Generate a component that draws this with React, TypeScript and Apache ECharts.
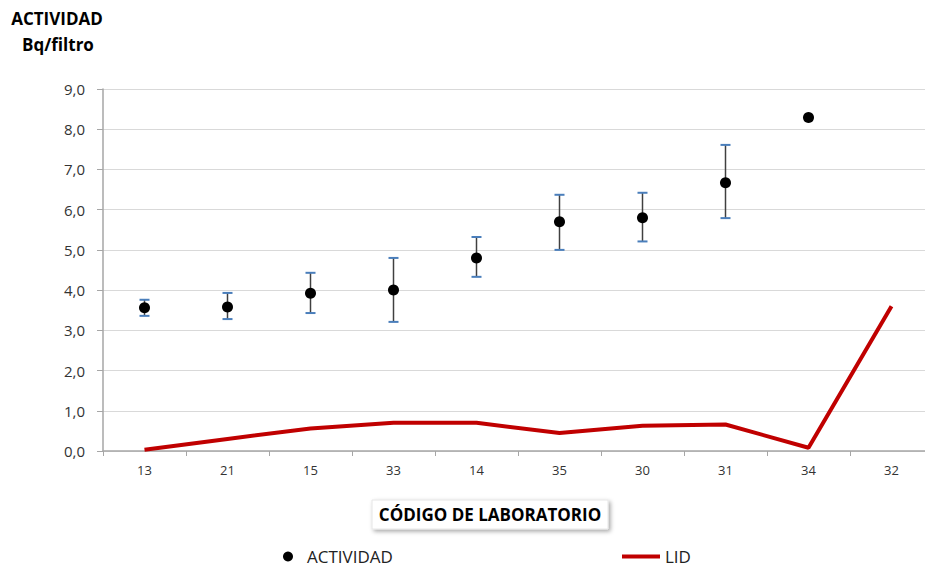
import React, { useEffect, useRef } from "react";
import * as echarts from "echarts";

const categories = ["13", "21", "15", "33", "14", "35", "30", "31", "34", "32"];
const actividad = [3.56, 3.58, 3.92, 4.0, 4.8, 5.7, 5.8, 6.67, 8.29, null];
const errLow = [3.36, 3.28, 3.43, 3.21, 4.33, 5.0, 5.21, 5.79, null, null];
const errHigh = [3.76, 3.93, 4.43, 4.8, 5.32, 6.37, 6.42, 7.61, null, null];
const lid = [0.03, 0.3, 0.56, 0.7, 0.7, 0.45, 0.63, 0.66, 0.08, 3.6];

const FONT = "'Open Sans', sans-serif";

export default function App() {
  const ref = useRef<HTMLDivElement>(null);
  useEffect(() => {
    const chart = echarts.init(ref.current!, null, { renderer: "svg" });
    const errData = categories
      .map((c, i) => (errLow[i] != null ? [i, errLow[i], errHigh[i]] : null))
      .filter((d) => d !== null);
    chart.setOption({
      animation: false,
      backgroundColor: "#ffffff",
      grid: { left: 103, top: 89, width: 830, height: 362, containLabel: false },
      graphic: [
        {
          type: "text",
          x: 57,
          y: 18,
          style: {
            text: "ACTIVIDAD",
            font: `bold 17px ${FONT}`,
            fill: "#000",
            textAlign: "center",
            textVerticalAlign: "middle",
          },
        },
        {
          type: "text",
          x: 58,
          y: 44,
          style: {
            text: "Bq/filtro",
            font: `bold 17px ${FONT}`,
            fill: "#000",
            textAlign: "center",
            textVerticalAlign: "middle",
          },
        },
        {
          type: "rect",
          shape: { x: 372, y: 500, width: 236, height: 29 },
          style: {
            fill: "#fff",
            stroke: "#e6e6e6",
            lineWidth: 1,
            shadowBlur: 4,
            shadowOffsetX: 2,
            shadowOffsetY: 2,
            shadowColor: "rgba(0,0,0,0.35)",
          },
        },
        {
          type: "text",
          x: 490,
          y: 514.5,
          style: {
            text: "CÓDIGO DE LABORATORIO",
            font: `bold 17px ${FONT}`,
            fill: "#000",
            textAlign: "center",
            textVerticalAlign: "middle",
          },
        },
      ],
      legend: [
        {
          data: [{ name: "ACTIVIDAD", icon: "circle" }],
          left: 278,
          top: 543,
          itemWidth: 28,
          itemHeight: 10,
          symbolKeepAspect: true,
          itemStyle: { opacity: 1 },
          textStyle: { fontFamily: FONT, fontSize: 17, color: "#222" },
        },
        {
          data: [{ name: "LID", icon: "rect" }],
          left: 617,
          top: 543,
          itemWidth: 38,
          itemHeight: 4,
          textStyle: { fontFamily: FONT, fontSize: 17, color: "#222" },
        },
      ],
      xAxis: {
        type: "category",
        data: categories,
        boundaryGap: true,
        axisLine: { lineStyle: { color: "#a6a6a6", width: 1.5 } },
        axisTick: { show: true, alignWithLabel: false, length: 5, lineStyle: { color: "#a6a6a6" } },
        axisLabel: { fontFamily: FONT, fontSize: 13, color: "#333", margin: 12 },
        splitLine: { show: false },
      },
      yAxis: {
        type: "value",
        min: 0,
        max: 9,
        interval: 1,
        axisLine: { show: true, lineStyle: { color: "#a6a6a6", width: 1.5 } },
        axisTick: { show: true, inside: false, length: 6, lineStyle: { color: "#a6a6a6" } },
        axisLabel: {
          fontFamily: FONT,
          fontSize: 15,
          color: "#333",
          margin: 18,
          formatter: (v: number) => v.toFixed(1).replace(".", ","),
        },
        splitLine: { lineStyle: { color: "#d9d9d9", width: 1 } },
      },
      series: [
        {
          name: "LID",
          type: "line",
          data: lid,
          symbol: "none",
          lineStyle: { color: "#c00000", width: 4 },
          itemStyle: { color: "#c00000" },
          z: 2,
        },
        {
          name: "error",
          type: "custom",
          data: errData,
          z: 3,
          renderItem: (params: any, api: any) => {
            const x = api.value(0);
            const lo = api.coord([x, api.value(1)]);
            const hi = api.coord([x, api.value(2)]);
            const hw = 5;
            return {
              type: "group",
              children: [
                {
                  type: "line",
                  shape: { x1: lo[0], y1: lo[1], x2: hi[0], y2: hi[1] },
                  style: { stroke: "#404040", lineWidth: 1.5 },
                },
                {
                  type: "line",
                  shape: { x1: lo[0] - hw, y1: lo[1], x2: lo[0] + hw, y2: lo[1] },
                  style: { stroke: "#4a7ebb", lineWidth: 2 },
                },
                {
                  type: "line",
                  shape: { x1: hi[0] - hw, y1: hi[1], x2: hi[0] + hw, y2: hi[1] },
                  style: { stroke: "#4a7ebb", lineWidth: 2 },
                },
              ],
            };
          },
        },
        {
          name: "ACTIVIDAD",
          type: "scatter",
          data: actividad,
          symbol: "circle",
          symbolSize: 11,
          itemStyle: { color: "#000", opacity: 1 },
          z: 4,
        },
      ],
    });
    return () => chart.dispose();
  }, []);
  return (
    <div style={{ width: 925, height: 569, position: "absolute", left: 0, top: 0, overflow: "hidden" }}>
      <div ref={ref} style={{ width: 945, height: 569 }} />
    </div>
  );
}
